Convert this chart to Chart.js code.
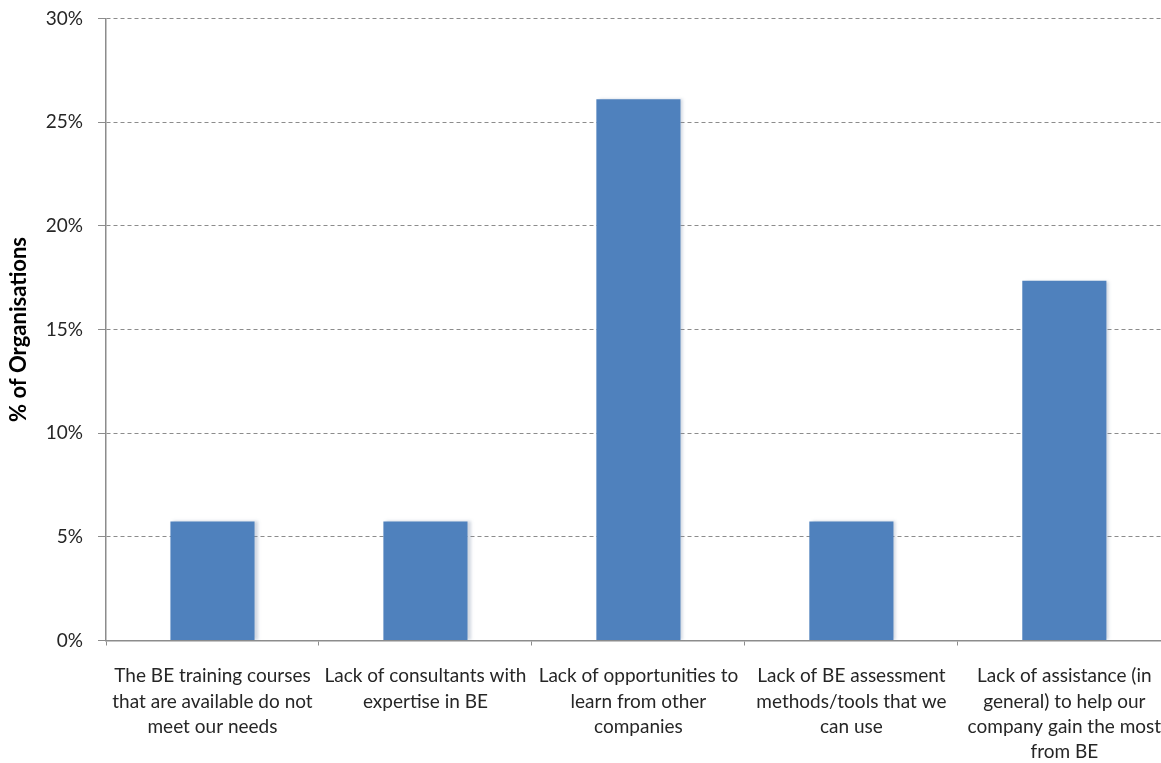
<!DOCTYPE html>
<html>
<head>
<meta charset="utf-8">
<script src="https://cdn.jsdelivr.net/npm/chart.js@4"></script>
<style>
  html, body { margin: 0; padding: 0; background: #fff; overflow: hidden; }
  #wrap { width: 1180px; height: 771px; position: relative; margin-top: -8px; }
</style>
</head>
<body>
<div id="wrap"><canvas id="c"></canvas></div>
<script>
const categories = [
  ["The BE training courses", "that are available do not", "meet our needs"],
  ["Lack of consultants with", "expertise in BE"],
  ["Lack of opportunities to", "learn from other", "companies"],
  ["Lack of BE assessment", "methods/tools that we", "can use"],
  ["Lack of assistance (in", "general) to help our", "company gain the most", "from BE"]
];
const shares = [5.74, 5.74, 26.1, 5.74, 17.35];
const yTicks = [0, 5, 10, 15, 20, 25, 30];
const yTitle = "% of Organisations";

// soft drop shadow behind the columns
const barShadow = {
  id: 'barShadow',
  beforeDatasetsDraw(chart) {
    const ctx = chart.ctx;
    ctx.save();
    ctx.shadowColor = 'rgba(120,140,170,0.35)';
    ctx.shadowOffsetX = 3;
    ctx.shadowOffsetY = 0;
    ctx.shadowBlur = 3;
  },
  afterDatasetsDraw(chart) {
    chart.ctx.restore();
  }
};

new Chart(document.getElementById('c'), {
  type: 'bar',
  data: {
    labels: categories,
    datasets: [{
      data: shares,
      backgroundColor: '#4F81BD',
      borderWidth: 0,
      categoryPercentage: 1,
      barPercentage: 0.395
    }]
  },
  plugins: [barShadow],
  options: {
    responsive: true,
    maintainAspectRatio: false,
    animation: false,
    layout: { padding: { top: 0, left: 0, right: 9, bottom: 0 } },
    plugins: { legend: { display: false }, tooltip: { enabled: false } },
    scales: {
      x: {
        offset: true,
        grid: {
          offset: true,
          drawOnChartArea: false,
          drawTicks: true,
          tickLength: 5,
          color: '#8c8c8c',
          lineWidth: 1
        },
        border: { display: true, color: '#8c8c8c', width: 1.5 },
        ticks: {
          maxRotation: 0,
          autoSkip: false,
          padding: 18,
          color: '#262626',
          font: { family: 'Lato', size: 19, lineHeight: 1.33 }
        },
        afterFit(scale) { scale.height = 122.5; }
      },
      y: {
        min: 0,
        max: 30,
        afterBuildTicks(scale) { scale.ticks = yTicks.map(v => ({ value: v })); },
        grid: {
          color: '#8c8c8c',
          lineWidth: 1,
          tickLength: 8,
          drawTicks: true
        },
        border: { display: true, color: '#8c8c8c', width: 1.5, dash: [4, 3] },
        ticks: {
          padding: 15,
          color: '#262626',
          font: { family: 'Lato', size: 19 },
          callback: v => v + '%'
        },
        title: {
          display: true,
          text: yTitle,
          color: '#000',
          padding: { top: 6, bottom: 4 },
          font: { family: 'Lato', size: 22, weight: 'bold' }
        },
        afterFit(scale) { scale.width = 106; }
      }
    }
  }
});
</script>
</body>
</html>
